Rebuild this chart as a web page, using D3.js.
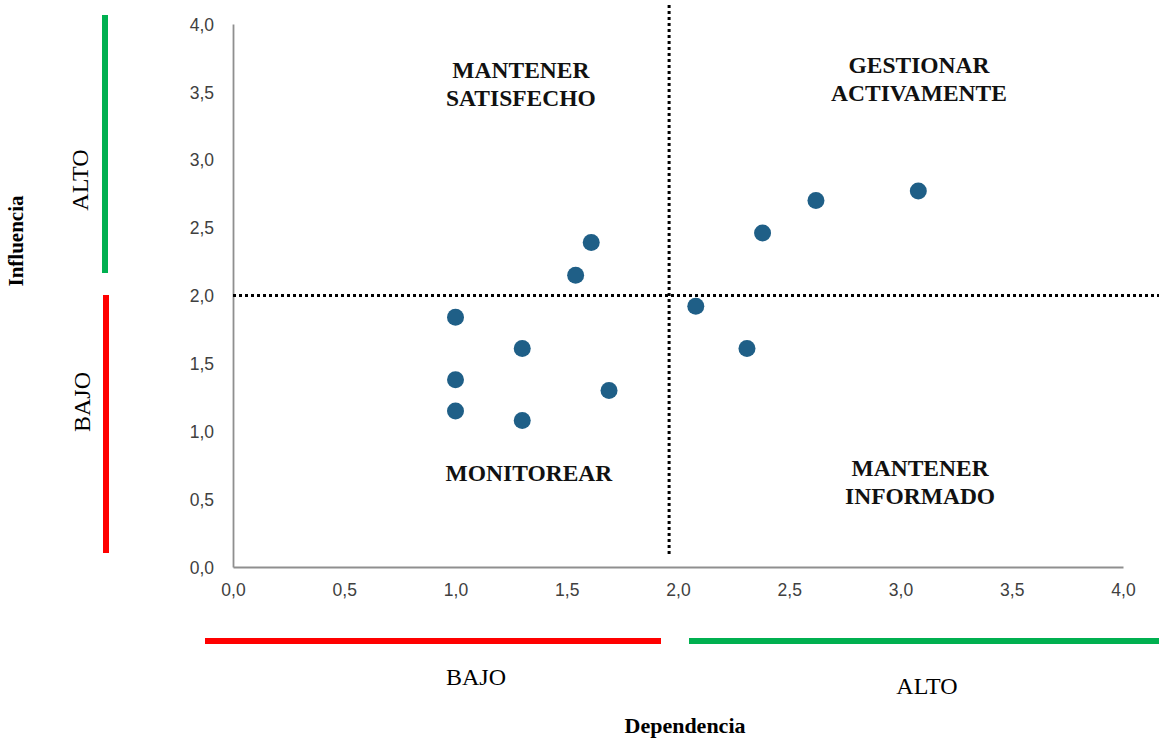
<!DOCTYPE html>
<html lang="es">
<head>
<meta charset="UTF-8">
<style>
  body { margin: 0; background: #fff; }
  svg { display: block; }
</style>
<script src="https://cdn.jsdelivr.net/npm/d3@7/dist/d3.min.js"></script>
</head>
<body>
<div id="chart"></div>
<script>
// datos
const dependencia = [1.0, 1.30, 1.0, 1.0, 1.30, 1.69, 1.54, 1.61, 2.08, 2.31, 2.38, 2.62, 3.08];
const influencia  = [1.84, 1.61, 1.38, 1.15, 1.08, 1.30, 2.15, 2.39, 1.92, 1.61, 2.46, 2.70, 2.77];
const ticks = [0, 0.5, 1, 1.5, 2, 2.5, 3, 3.5, 4];
const cuadrantes = [
  { x: 1.294, y: 3.60, lines: ["MANTENER", "SATISFECHO"] },
  { x: 3.083, y: 3.64, lines: ["GESTIONAR", "ACTIVAMENTE"] },
  { x: 1.33, y: 0.634, lines: ["MONITOREAR"] },
  { x: 3.088, y: 0.67, lines: ["MANTENER", "INFORMADO"] }
];
const corteX = 1.96, corteY = 2.0;

const W = 1159, H = 740;
const svg = d3.select("#chart").append("svg").attr("width", W).attr("height", H);

// escalas
const x = d3.scaleLinear().domain([0, 4]).range([233, 1123]);
const y = d3.scaleLinear().domain([0, 4]).range([567, 24]);
const fmt = d => d3.format(".1f")(d).replace(".", ",");

// ejes
const gx = svg.append("g").attr("transform", "translate(0,567)")
  .call(d3.axisBottom(x).tickValues(ticks).tickFormat(fmt).tickSize(0).tickPadding(17));
const gy = svg.append("g").attr("transform", "translate(233,0)")
  .call(d3.axisLeft(y).tickValues(ticks).tickFormat(fmt).tickSize(0).tickPadding(19));
[gx, gy].forEach(g => {
  g.select(".domain").attr("stroke", "#8f8f8f").attr("stroke-width", 1.8);
  g.selectAll("text").attr("font-family", "Liberation Sans, Arial, sans-serif")
    .attr("font-size", 17.5).attr("fill", "#404040");
});
gy.selectAll("text").attr("dy", "0.35em");

// lineas punteadas
svg.append("line")
  .attr("x1", x(corteX)).attr("x2", x(corteX)).attr("y1", 5).attr("y2", 555)
  .attr("stroke", "#000").attr("stroke-width", 3).attr("stroke-dasharray", "3,3");
svg.append("line")
  .attr("x1", x(0)).attr("x2", W).attr("y1", y(corteY)).attr("y2", y(corteY))
  .attr("stroke", "#000").attr("stroke-width", 3).attr("stroke-dasharray", "3,3");

// puntos
svg.selectAll("circle.pt").data(dependencia).enter().append("circle")
  .attr("class", "pt")
  .attr("cx", d => x(d))
  .attr("cy", (d, i) => y(influencia[i]))
  .attr("r", 8.5)
  .attr("fill", "#1f5f87");

// etiquetas de cuadrante
cuadrantes.forEach(c => {
  const t = svg.append("text")
    .attr("x", x(c.x)).attr("y", y(c.y))
    .attr("text-anchor", "middle")
    .attr("font-family", "Liberation Serif, Times New Roman, serif")
    .attr("font-weight", "bold").attr("font-size", 23.5).attr("fill", "#111");
  c.lines.forEach((l, i) => t.append("tspan").attr("x", x(c.x)).attr("dy", i ? 28 : 0).text(l));
});

// barras de nivel
const serif = "Liberation Serif, Times New Roman, serif";
svg.append("line").attr("x1", 205).attr("x2", 661).attr("y1", 641).attr("y2", 641)
  .attr("stroke", "#ff0000").attr("stroke-width", 6);
svg.append("line").attr("x1", 689).attr("x2", 1159).attr("y1", 641).attr("y2", 641)
  .attr("stroke", "#00b050").attr("stroke-width", 6);
svg.append("line").attr("x1", 105).attr("x2", 105).attr("y1", 15).attr("y2", 273)
  .attr("stroke", "#00b050").attr("stroke-width", 6);
svg.append("line").attr("x1", 106).attr("x2", 106).attr("y1", 295).attr("y2", 553)
  .attr("stroke", "#ff0000").attr("stroke-width", 6);

svg.append("text").attr("x", 476).attr("y", 685).attr("text-anchor", "middle")
  .attr("font-family", serif).attr("font-size", 24).text("BAJO");
svg.append("text").attr("x", 927).attr("y", 694).attr("text-anchor", "middle")
  .attr("font-family", serif).attr("font-size", 24).text("ALTO");
svg.append("text").attr("transform", "translate(88,180) rotate(-90)").attr("text-anchor", "middle")
  .attr("font-family", serif).attr("font-size", 24).text("ALTO");
svg.append("text").attr("transform", "translate(90,402) rotate(-90)").attr("text-anchor", "middle")
  .attr("font-family", serif).attr("font-size", 24).text("BAJO");

// titulos
svg.append("text").attr("x", 685).attr("y", 733).attr("text-anchor", "middle")
  .attr("font-family", serif).attr("font-weight", "bold").attr("font-size", 22).text("Dependencia");
svg.append("text").attr("transform", "translate(23,241) rotate(-90)").attr("text-anchor", "middle")
  .attr("font-family", serif).attr("font-weight", "bold").attr("font-size", 21).text("Influencia");
</script>
</body>
</html>
